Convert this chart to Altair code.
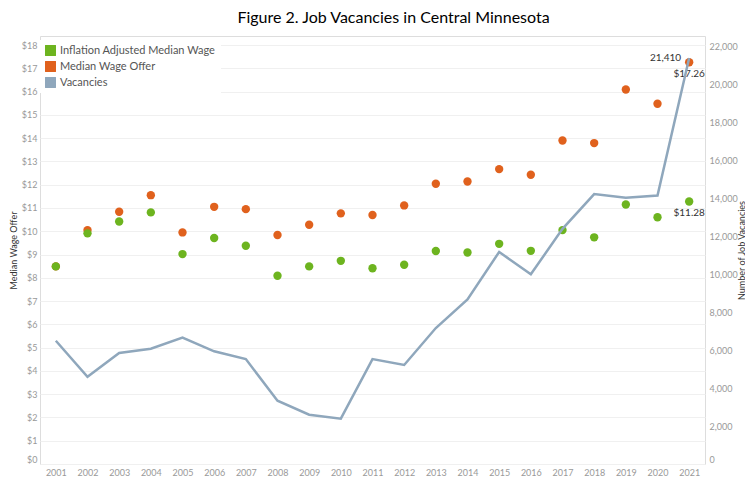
import altair as alt
import pandas as pd

years = list(range(2001, 2022))
inflation_adjusted = [8.49, 9.91, 10.42, 10.81, 9.02, 9.71, 9.38, 8.09, 8.49, 8.73, 8.41,
                      8.56, 9.15, 9.09, 9.46, 9.16, 10.05, 9.74, 11.15, 10.60, 11.28]
median_offer = [8.49, 10.05, 10.84, 11.55, 9.95, 11.05, 10.95, 9.84, 10.28, 10.77, 10.70,
                11.11, 12.04, 12.14, 12.67, 12.43, 13.90, 13.79, 16.09, 15.48, 17.26]
vacancies = [6500, 4600, 5850, 6080, 6660, 5940, 5530, 3340, 2600, 2390, 5530,
             5220, 7170, 8680, 11180, 10000, 12400, 14230, 14040, 14150, 21410]

series_names = ["Inflation Adjusted Median Wage", "Median Wage Offer", "Vacancies"]
series_colors = ["#6DB41F", "#E0611D", "#8FA7BC"]
wage_ticks = list(range(0, 19))
vac_ticks = list(range(0, 22001, 2000))

font = "Lato"

wage_df = pd.concat([
    pd.DataFrame({"year": years, "wage": median_offer, "series": series_names[1], "z": 0}),
    pd.DataFrame({"year": years, "wage": inflation_adjusted, "series": series_names[0], "z": 1}),
], ignore_index=True)
vac_df = pd.DataFrame({"year": years, "vacancies": vacancies})

wage_label_df = pd.DataFrame({
    "year": [years[-1], years[-1]],
    "wage": [median_offer[-1], inflation_adjusted[-1]],
    "label": [f"${median_offer[-1]:.2f}", f"${inflation_adjusted[-1]:.2f}"],
})
vac_label_df = pd.DataFrame({
    "year": [years[-1]],
    "vacancies": [vacancies[-1]],
    "label": [f"{vacancies[-1]:,}"],
})

x_enc = alt.X(
    "year:Q",
    scale=alt.Scale(domain=[2000.5, 2021.5], nice=False, zero=False),
    axis=alt.Axis(values=years, format="d", title=None, grid=False, ticks=False,
                  domain=False, labelFlush=False, labelColor="#999999",
                  labelFontSize=9, labelFont=font, labelPadding=4),
)

wage_scale = alt.Scale(domain=[0, 18.39], nice=False)
vac_scale = alt.Scale(domain=[0, 22565], nice=False)

wage_axis = alt.Axis(values=wage_ticks, labelExpr="'$' + datum.value",
                     title="Median Wage Offer", titleFont=font, titleFontSize=9,
                     titleFontWeight="normal", titleColor="#333333", titleX=-27,
                     titleBaseline="middle", titleAngle=270,
                     labelColor="#999999", labelFontSize=9, labelFont=font,
                     labelPadding=3, labelFlush=True, labelOverlap=False,
                     ticks=False, domain=False,
                     grid=True, gridColor="#f0f0f0")
vac_axis = alt.Axis(values=vac_ticks, labelExpr="format(datum.value, ',')",
                    orient="right",
                    title="Number of Job Vacancies", titleFont=font,
                    titleFontSize=9, titleFontWeight="normal",
                    titleColor="#333333", titleX=36, titleAngle=270,
                    titleBaseline="middle",
                    labelColor="#999999", labelFontSize=9, labelFont=font,
                    labelPadding=4, labelFlush=True, labelOverlap=False,
                    ticks=False, domain=False, grid=False)

points = alt.Chart(wage_df).mark_circle(size=70, opacity=1).encode(
    x=x_enc,
    y=alt.Y("wage:Q", scale=wage_scale, axis=wage_axis, title="Median Wage Offer"),
    color=alt.Color("series:N",
                    scale=alt.Scale(domain=series_names, range=series_colors),
                    legend=alt.Legend(title=None, orient="none", legendX=0, legendY=4,
                                      padding=5,
                                      symbolType="square", symbolSize=120,
                                      symbolStrokeWidth=0, symbolOpacity=1,
                                      labelFont=font, labelFontSize=11,
                                      labelColor="#555555", rowPadding=4,
                                      fillColor="white")),
    order=alt.Order("z:Q"),
)

wage_text = alt.Chart(wage_label_df).mark_text(
    font=font, fontSize=10, color="#333333", dy=12, align="center"
).encode(x=x_enc,
         y=alt.Y("wage:Q", scale=wage_scale, axis=wage_axis, title="Median Wage Offer"),
         text="label:N")

line = alt.Chart(vac_df).mark_line(color=series_colors[2], strokeWidth=2.5).encode(
    x=x_enc,
    y=alt.Y("vacancies:Q", scale=vac_scale, axis=vac_axis,
            title="Number of Job Vacancies"),
)

vac_text = alt.Chart(vac_label_df).mark_text(
    font=font, fontSize=10, color="#333333", dx=-8, align="right", baseline="middle"
).encode(x=x_enc,
         y=alt.Y("vacancies:Q", scale=vac_scale, axis=vac_axis,
                 title="Number of Job Vacancies"),
         text="label:N")

chart = alt.layer(
    alt.layer(points, wage_text),
    alt.layer(line, vac_text),
).resolve_scale(y="independent").properties(
    width=665,
    height=428,
    padding={"left": 32, "top": 28, "right": 40, "bottom": 12},
    autosize=alt.AutoSizeParams(type="none"),
    title=alt.Title("Figure 2. Job Vacancies in Central Minnesota", font=font,
                    fontSize=16, fontWeight="normal", color="#000000",
                    anchor="middle", dx=21, offset=10),
).configure_view(stroke="#dddddd", strokeWidth=1)

chart.save("out.html", embed_options={"renderer": "svg", "actions": False})
